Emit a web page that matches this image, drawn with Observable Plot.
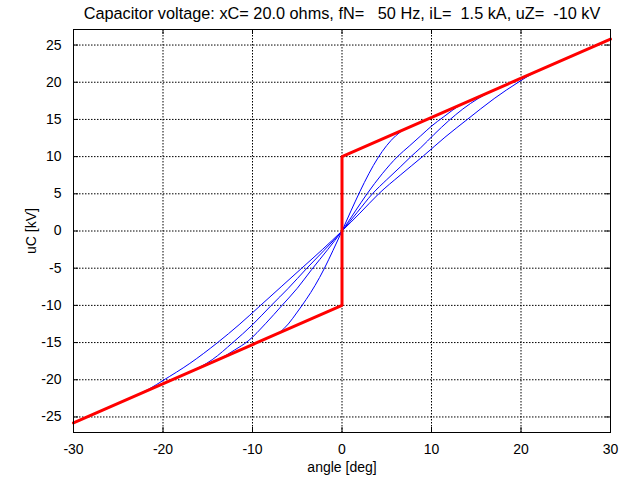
<!DOCTYPE html>
<html>
<head>
<meta charset="utf-8">
<script src="https://cdn.jsdelivr.net/npm/d3@7"></script>
<script src="https://cdn.jsdelivr.net/npm/@observablehq/plot@0.6"></script>
<style>
  html, body { margin: 0; padding: 0; background: #ffffff; }
  svg text { white-space: pre; }
</style>
</head>
<body>
<div id="chart"></div>
<script>
// ---- text ----
const titleText = "Capacitor voltage: xC= 20.0 ohms, fN=   50 Hz, iL=  1.5 kA, uZ=  -10 kV";
const xLabel = "angle [deg]";
const yLabel = "uC [kV]";

// ---- axes ----
const angleTicks = [-30, -20, -10, 0, 10, 20, 30];
const uCTicks = [-25, -20, -15, -10, -5, 0, 5, 10, 15, 20, 25];
const angleDomain = [-30, 30];
const uCDomain = [-27.09, 27.09];

// ---- red boundary: [angle deg, uC kV] ----
const boundary = [[-30, -25.8], [0, -10], [0, 10], [30, 25.8]];

// ---- blue trajectories: [angle deg, uC kV] ----
const curveA = [[-30, -25.8], [-7.0, -13.7], [-6.0, -12.5], [-5.0, -10.9], [-4.0, -9.2], [-3.0, -7.3], [-2.0, -5.1], [-1.0, -2.6], [0, 0],
  [1.0, 2.7], [2.0, 5.3], [3.0, 7.7], [4.0, 9.8], [5.0, 11.5], [6.0, 12.8], [7.0, 13.7], [30, 25.8]];
const curveB = [[-30, -25.8], [-13.5, -17.1], [-12.0, -16.0], [-10.5, -14.8], [-8.5, -12.4], [-6.7, -10.0], [-5.0, -7.7], [-3.4, -5.2], [-1.6, -2.5], [0, 0],
  [1.5, 2.7], [2.8, 5.0], [4.5, 7.7], [6.2, 10.0], [7.5, 11.4], [8.8, 12.8], [10.0, 14.1], [11.3, 15.3], [12.3, 16.2], [13.3, 17.0], [30, 25.8]];
const curveC = [[-30, -25.8], [-17.0, -18.95], [-14.5, -17.3], [-12.2, -15.0], [-10.0, -12.6], [-7.9, -10.0], [-6.0, -7.7], [-4.0, -5.1], [-2.0, -2.6], [0, 0],
  [1.7, 2.5], [3.4, 5.0], [5.0, 6.9], [6.5, 8.6], [7.7, 10.0], [8.8, 11.2], [10.3, 13.0], [11.9, 14.8], [13.5, 16.4], [15.2, 17.8], [17.0, 18.95], [30, 25.8]];
const curveD = [[-30, -25.8], [-23.0, -22.1], [-21.5, -21.2], [-20.0, -20.1], [-17.0, -17.8], [-13.9, -15.0], [-11.5, -12.6], [-9.1, -10.0], [-6.8, -7.5], [-4.5, -5.0], [-2.2, -2.5], [0, 0],
  [2.0, 2.4], [4.1, 5.0], [6.5, 7.5], [9.1, 10.1], [11.5, 12.6], [14.0, 15.0], [17.0, 17.8], [19.7, 20.0], [21.2, 21.1], [22.7, 22.0], [30, 25.8]];
const blueCurves = [curveA, curveB, curveC, curveD];

// ---- layout ----
const W = 627, H = 480, mL = 73, mR = 17, mT = 29, mB = 48;
const innerW = W - mL - mR, innerH = H - mT - mB;
const tickLen = 5;
const gx = d => d[0], gy = d => d[1];

const blueMarks = blueCurves.flatMap(c => [
  Plot.line(c.slice(0, 2), {x: gx, y: gy, stroke: "#0000ff", strokeWidth: 1, curve: "linear"}),
  Plot.line(c.slice(1, -1), {x: gx, y: gy, stroke: "#0000ff", strokeWidth: 1, curve: "monotone-x"}),
  Plot.line(c.slice(-2), {x: gx, y: gy, stroke: "#0000ff", strokeWidth: 1, curve: "linear"})
]);

const chart = Plot.plot({
  width: W, height: H,
  marginLeft: mL, marginRight: mR, marginTop: mT, marginBottom: mB,
  style: {fontFamily: "'Liberation Sans', Arial, Helvetica, sans-serif", fontSize: "14px", background: "#ffffff", color: "#000000"},
  x: {domain: angleDomain, axis: null},
  y: {domain: uCDomain, axis: null},
  marks: [
    Plot.ruleX(angleTicks, {x: d => d, stroke: "#000", strokeWidth: 1, strokeDasharray: "1.5,1.5"}),
    Plot.ruleY(uCTicks, {y: d => d, stroke: "#000", strokeWidth: 1, strokeDasharray: "1.5,1.5"}),
    ...blueMarks,
    Plot.line(boundary, {x: gx, y: gy, stroke: "#ff0000", strokeWidth: 3, curve: "linear", strokeLinejoin: "miter"}),
    Plot.frame({stroke: "#000", strokeWidth: 1}),
    Plot.tickX(angleTicks, {x: d => d, stroke: "#000", insetTop: innerH - tickLen}),
    Plot.tickX(angleTicks, {x: d => d, stroke: "#000", insetBottom: innerH - tickLen}),
    Plot.tickY(uCTicks, {y: d => d, stroke: "#000", insetRight: innerW - tickLen}),
    Plot.tickY(uCTicks, {y: d => d, stroke: "#000", insetLeft: innerW - tickLen}),
    Plot.text(angleTicks, {x: d => d, text: d => String(d), frameAnchor: "bottom", dy: 17, textAnchor: "middle", lineAnchor: "middle", fill: "#000"}),
    Plot.text(uCTicks, {y: d => d, text: d => String(d), frameAnchor: "left", dx: -12, textAnchor: "end", lineAnchor: "middle", fill: "#000"}),
    Plot.text([xLabel], {text: d => d, frameAnchor: "bottom", dy: 35, textAnchor: "middle", lineAnchor: "middle", fill: "#000"}),
    Plot.text([yLabel], {text: d => d, frameAnchor: "middle", dx: -(innerW / 2) - 42, rotate: -90, textAnchor: "middle", lineAnchor: "middle", fill: "#000"}),
    Plot.text([titleText], {text: d => d, frameAnchor: "top", dy: -16, textAnchor: "middle", lineAnchor: "middle", fontSize: 16.3, fill: "#000"})
  ]
});
document.getElementById("chart").appendChild(chart);
</script>
</body>
</html>
